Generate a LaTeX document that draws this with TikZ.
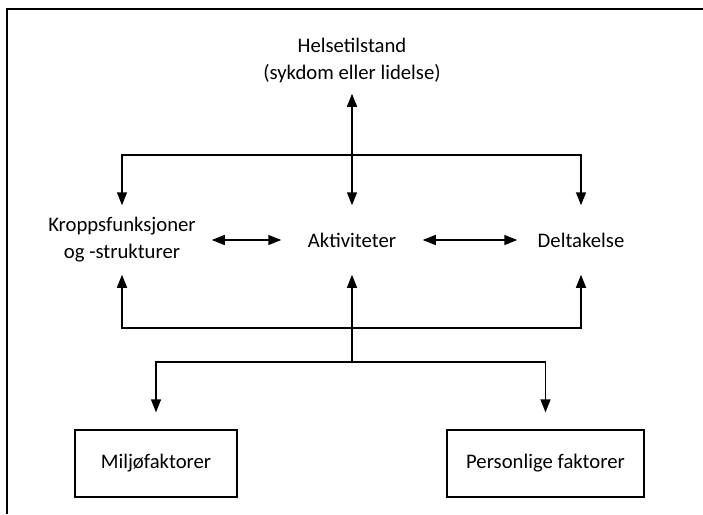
\documentclass[tikz,border=0pt]{standalone}
\usepackage{fontspec}
\setmainfont{Carlito}
\usetikzlibrary{arrows.meta}

\begin{document}
\begin{tikzpicture}[x=1pt,y=-1pt,
        line width=1.5pt,
        >={Triangle[length=13pt,width=10pt]},
        every node/.style={font=\fontsize{20.7}{27}\selectfont,align=center,inner sep=0pt},
        midtext/.style={minimum height=68pt},
        factorbox/.style={draw,line width=1.3pt,minimum height=67pt}]
            \useasboundingbox (0,0) rectangle (703,514);
            \draw (7,514) -- (7,9) -- (703,9);

            \node[minimum height=66pt] (helse) at (352,60) {Helsetilstand\\(sykdom eller lidelse)};
            \node[midtext,minimum width=178pt] (kropp) at (122,240) {Kroppsfunksjoner\\og -strukturer};
            \node[midtext,minimum width=140pt] (akt) at (352,240) {Aktiviteter};
            \node[midtext,minimum width=126pt] (delt) at (581,240) {Deltakelse};
            \node[factorbox,minimum width=162pt] (milj) at (156,463.5) {Miljøfaktorer};
            \node[factorbox,minimum width=197pt] (pers) at (545.5,463.5) {Personlige faktorer};

            \coordinate (topbar) at (352,155);
            \coordinate (botbar) at (352,328);
            \coordinate (split) at (352,362);

            \draw[<->] (helse.south) -- (akt.north);
            \draw[->] (topbar) -| (kropp.north);
            \draw[->] (topbar) -| (delt.north);
            \draw[<->] (kropp) -- (akt);
            \draw[<->] (akt) -- (delt);
            \draw[->] (botbar) -| (kropp.south);
            \draw[->] (botbar) -| (delt.south);
            \draw[->] (botbar) -- (akt.south);
            \draw (botbar) -- (split);
            \draw[->,shorten >=17pt] (split) -| (milj.north);
            \draw[->,shorten >=17pt] (split) -| (pers.north);
        \end{tikzpicture}
\end{document}
